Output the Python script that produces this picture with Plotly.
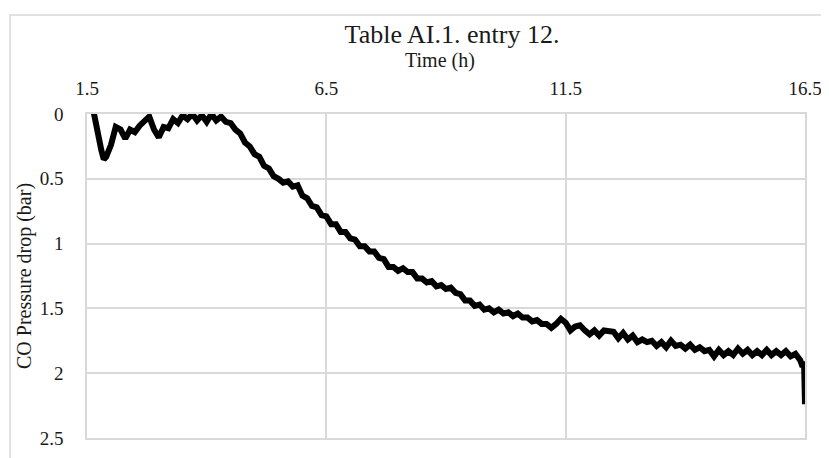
import plotly.graph_objects as go

time_h = [1.62, 1.7, 1.8, 1.85, 1.9, 2.0, 2.1, 2.2, 2.3, 2.4, 2.5, 2.6, 2.7, 2.8, 2.9,
          3.0, 3.1, 3.2, 3.3, 3.4, 3.5, 3.6, 3.7, 3.8, 3.9, 4.0, 4.1, 4.2, 4.3, 4.4,
          4.5, 4.6, 4.7, 4.8, 4.9, 5.0, 5.1, 5.2, 5.3, 5.4, 5.5, 5.6, 5.7, 5.8, 5.9,
          6.0, 6.1, 6.2, 6.3, 6.4, 6.5, 6.6, 6.7, 6.8, 6.9, 7.0, 7.1, 7.2, 7.3, 7.4,
          7.5, 7.6, 7.7, 7.8, 7.9, 8.0, 8.1, 8.2, 8.3, 8.4, 8.5, 8.6, 8.7, 8.8, 8.9,
          9.0, 9.1, 9.2, 9.3, 9.4, 9.5, 9.6, 9.7, 9.8, 9.9, 10.0, 10.1, 10.2, 10.3, 10.4,
          10.5, 10.6, 10.7, 10.8, 10.9, 11.0, 11.1, 11.2, 11.3, 11.4, 11.5, 11.6, 11.7, 11.8, 11.9,
          12.0, 12.1, 12.2, 12.3, 12.4, 12.5, 12.6, 12.7, 12.8, 12.9, 13.0, 13.1, 13.2, 13.3, 13.4,
          13.5, 13.6, 13.7, 13.8, 13.9, 14.0, 14.1, 14.2, 14.3, 14.4, 14.5, 14.6, 14.7, 14.8, 14.9,
          15.0, 15.1, 15.2, 15.3, 15.4, 15.5, 15.6, 15.7, 15.8, 15.9, 16.0, 16.1, 16.2, 16.3, 16.4,
          16.45, 16.48, 16.5]

pressure_drop = [-0.05, 0.12, 0.28, 0.35, 0.33, 0.24, 0.10, 0.12, 0.19, 0.12, 0.14, 0.09, 0.05, 0.02, 0.12,
                 0.18, 0.10, 0.11, 0.04, 0.07, 0.01, 0.04, 0.00, 0.05, 0.01, 0.06, 0.00, 0.05, 0.02, 0.06,
                 0.07, 0.12, 0.15, 0.22, 0.25, 0.31, 0.33, 0.40, 0.42, 0.48, 0.50, 0.53, 0.52, 0.56, 0.55,
                 0.63, 0.65, 0.71, 0.72, 0.78, 0.79, 0.85, 0.85, 0.91, 0.91, 0.96, 0.97, 1.02, 1.02, 1.06,
                 1.06, 1.11, 1.12, 1.18, 1.18, 1.21, 1.19, 1.22, 1.22, 1.27, 1.27, 1.30, 1.29, 1.33, 1.32,
                 1.35, 1.34, 1.38, 1.39, 1.44, 1.44, 1.48, 1.47, 1.51, 1.50, 1.53, 1.51, 1.54, 1.53, 1.56,
                 1.54, 1.57, 1.57, 1.60, 1.59, 1.62, 1.62, 1.65, 1.62, 1.58, 1.61, 1.67, 1.64, 1.63, 1.67,
                 1.70, 1.67, 1.71, 1.67, 1.68, 1.68, 1.73, 1.69, 1.74, 1.71, 1.76, 1.74, 1.76, 1.75, 1.79,
                 1.76, 1.80, 1.75, 1.79, 1.78, 1.81, 1.78, 1.82, 1.80, 1.83, 1.82, 1.87, 1.82, 1.86, 1.83,
                 1.86, 1.81, 1.85, 1.82, 1.86, 1.83, 1.86, 1.82, 1.86, 1.83, 1.86, 1.83, 1.87, 1.85, 1.90,
                 1.95, 1.91, 2.24]

x_ticks = [1.5, 6.5, 11.5, 16.5]
x_tick_labels = ["1.5", "6.5", "11.5", "16.5"]
y_ticks = [0, 0.5, 1, 1.5, 2, 2.5]
y_tick_labels = ["0", "0.5", "1", "1.5", "2", "2.5"]

FONT = "Liberation Serif, Times New Roman, serif"
GRID = "#d9d9d9"
TXT = "#1a1a1a"

fig = go.Figure()
fig.add_trace(go.Scatter(x=time_h, y=pressure_drop, mode="lines",
                         line=dict(color="black", width=6), showlegend=False))

# page body has an 8px default margin; lay out in page pixels minus that offset
OFF = 8
W, H = 829 - OFF, 458 - OFF
L, T = 87 - OFF, 114 - OFF
R = W - (805 - OFF)
B = H - (438 - OFF)
pw, ph = W - L - R, H - T - B

fig.update_layout(
    width=W, height=H,
    margin=dict(l=L, r=R, t=T, b=B, autoexpand=False),
    paper_bgcolor="white", plot_bgcolor="white",
    font=dict(family=FONT, color=TXT, size=19),
    title=dict(text="Table AI.1. entry 12.", x=(452 - OFF) / W, xref="container", xanchor="center",
               y=1 - (34 - OFF) / H, yref="container", yanchor="middle",
               font=dict(family=FONT, size=26, color=TXT)),
    xaxis=dict(side="top", range=[1.5, 16.5], tickvals=x_ticks, ticktext=x_tick_labels,
               showgrid=True, gridcolor=GRID, gridwidth=1.5, zeroline=False,
               showline=True, linecolor=GRID, linewidth=1.5, mirror=True,
               ticks="", ticklabelstandoff=10, automargin=False,
               tickfont=dict(family=FONT, size=19, color=TXT)),
    yaxis=dict(range=[2.5, 0], tickvals=y_ticks, ticktext=y_tick_labels,
               showgrid=True, gridcolor=GRID, gridwidth=1.5, zeroline=False,
               showline=True, linecolor=GRID, linewidth=1.5, mirror=True,
               ticks="", ticklabelstandoff=18, automargin=False,
               tickfont=dict(family=FONT, size=19, color=TXT)),
)

# axis titles
fig.add_annotation(text="Time (h)", xref="paper", yref="paper",
                   x=(440 - 87) / pw, y=1 + (114 - 61) / ph, showarrow=False,
                   xanchor="center", yanchor="middle",
                   font=dict(family=FONT, size=20, color=TXT))
fig.add_annotation(text="CO Pressure drop (bar)", xref="paper", yref="paper",
                   x=(24 - 87) / pw, y=0.5, showarrow=False, textangle=-90,
                   xanchor="center", yanchor="middle",
                   font=dict(family=FONT, size=20, color=TXT))

# outer chart border
fig.add_shape(type="rect", xref="paper", yref="paper",
              x0=(10 - 87) / pw, x1=(W + 20 - L) / pw,
              y0=-(B + 20) / ph, y1=1 + (114 - 15) / ph,
              line=dict(color=GRID, width=1.5), fillcolor="rgba(0,0,0,0)", layer="below")

fig.write_html("out.html")
